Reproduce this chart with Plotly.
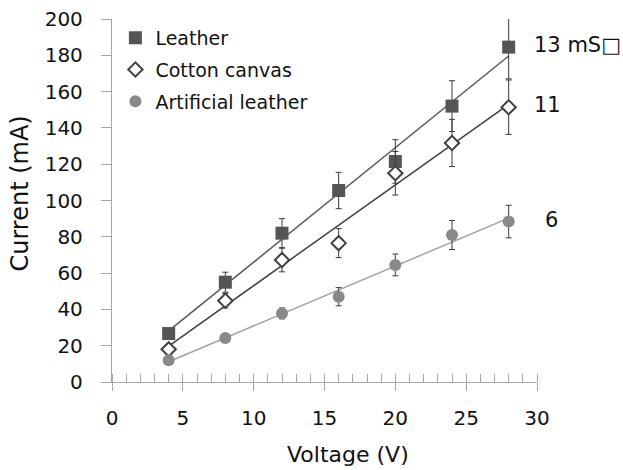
import numpy as np
import plotly.graph_objects as go

voltage = [4, 8, 12, 16, 20, 24, 28]

leather = [26.7, 55, 82, 105.5, 121.5, 152, 184.5]
leather_err = [2, 5.5, 8, 10, 12, 14, 17.5]

cotton = [18, 44.8, 67.2, 76.5, 115, 131.7, 151.4]
cotton_err = [2, 4, 6.5, 8, 12, 13, 15]

artificial = [12, 24.3, 37.8, 47, 64.5, 81, 88.4]
artificial_err = [1, 1.5, 3, 5, 6, 8, 9]

series_names = ["Leather", "Cotton canvas", "Artificial leather"]
end_labels = ["13 mS\u25a1", "11", "6"]
label_y = [185.7, 152.6, 89.3]

FONT = "DejaVu Sans"
fig = go.Figure()

x = np.array(voltage, dtype=float)
styles = [
    dict(y=leather, e=leather_err, symbol="square", color="#555555", line="#5a5a5a",
         mline=dict(width=0, color="#555555"), size=13),
    dict(y=cotton, e=cotton_err, symbol="diamond", color="white", line="#404040",
         mline=dict(width=2, color="#404040"), size=11),
    dict(y=artificial, e=artificial_err, symbol="circle", color="#898989", line="#a3a3a3",
         mline=dict(width=0, color="#898989"), size=12),
]

# trend lines
for name, s in zip(series_names, styles):
    k, b = np.polyfit(x, np.array(s["y"]), 1)
    xs = np.array([x.min(), x.max()])
    fig.add_trace(go.Scatter(x=xs, y=k * xs + b, mode="lines",
                             line=dict(color=s["line"], width=1.5),
                             showlegend=False, hoverinfo="skip"))

for i, (name, s) in enumerate(zip(series_names, styles)):
    fig.add_trace(go.Scatter(
        x=voltage, y=s["y"], mode="markers", name=name, legendgroup=str(i),
        marker=dict(symbol=s["symbol"], size=s["size"], color=s["color"], line=s["mline"]),
        error_y=dict(type="data", array=s["e"], visible=True, color="#3a3a3a",
                     thickness=1, width=3),
    ))

# end labels
label_px = [0.988, 0.988, 1.015]
for t, yv, xv in zip(end_labels, label_y, label_px):
    fig.add_annotation(x=xv, xref="paper", y=yv, yref="y", text=t, showarrow=False,
                       xanchor="left", yanchor="middle",
                       font=dict(family=FONT, size=21, color="#111111"))

# axis titles
fig.add_annotation(x=0.555, xref="paper", y=-0.201, yref="paper", text="Voltage (V)",
                   showarrow=False, xanchor="center", yanchor="middle",
                   font=dict(family=FONT, size=22, color="#111111"))
fig.add_annotation(x=-0.2165, xref="paper", y=0.519, yref="paper", text="Current (mA)",
                   showarrow=False, xanchor="center", yanchor="middle", textangle=-90,
                   font=dict(family=FONT, size=24, color="#111111"))

axis_color = "#a6a6a6"
fig.update_layout(
    width=623, height=470,
    margin=dict(l=112, r=86, t=19, b=88),
    plot_bgcolor="white", paper_bgcolor="white",
    font=dict(family=FONT, size=20, color="#111111"),
    showlegend=True,
    legend=dict(x=0.008, y=1.0, xanchor="left", yanchor="top",
                font=dict(family=FONT, size=19, color="#111111"),
                bgcolor="rgba(0,0,0,0)", itemwidth=30, tracegroupgap=4),
    xaxis=dict(range=[0, 30], dtick=5, tick0=0, showgrid=False, zeroline=False,
               automargin=False,
               showline=True, linecolor=axis_color, linewidth=1.3,
               ticks="outside", ticklen=8, tickcolor=axis_color, tickwidth=1.3,
               ticklabelstandoff=10,
               minor=dict(ticks="inside", ticklen=8, dtick=1, tick0=0,
                          tickcolor=axis_color, tickwidth=1.3, showgrid=False),
               tickfont=dict(size=20)),
    xaxis2=dict(range=[0, 30], dtick=5, tick0=0, overlaying="x", showgrid=False,
                zeroline=False, showline=False, ticks="inside", ticklen=8,
                tickcolor=axis_color, tickwidth=1.3, showticklabels=False,
                side="bottom", anchor="y", automargin=False),
    yaxis=dict(range=[0, 200], dtick=20, showgrid=False, zeroline=False,
               automargin=False,
               showline=True, linecolor=axis_color, linewidth=1.3,
               ticks="outside", ticklen=10, tickcolor=axis_color, tickwidth=1.3,
               ticklabelstandoff=14,
               tickfont=dict(size=20)),
)
fig.add_trace(go.Scatter(x=[None], y=[None], xaxis="x2", showlegend=False, hoverinfo="skip"))

fig.write_html("out.html")
